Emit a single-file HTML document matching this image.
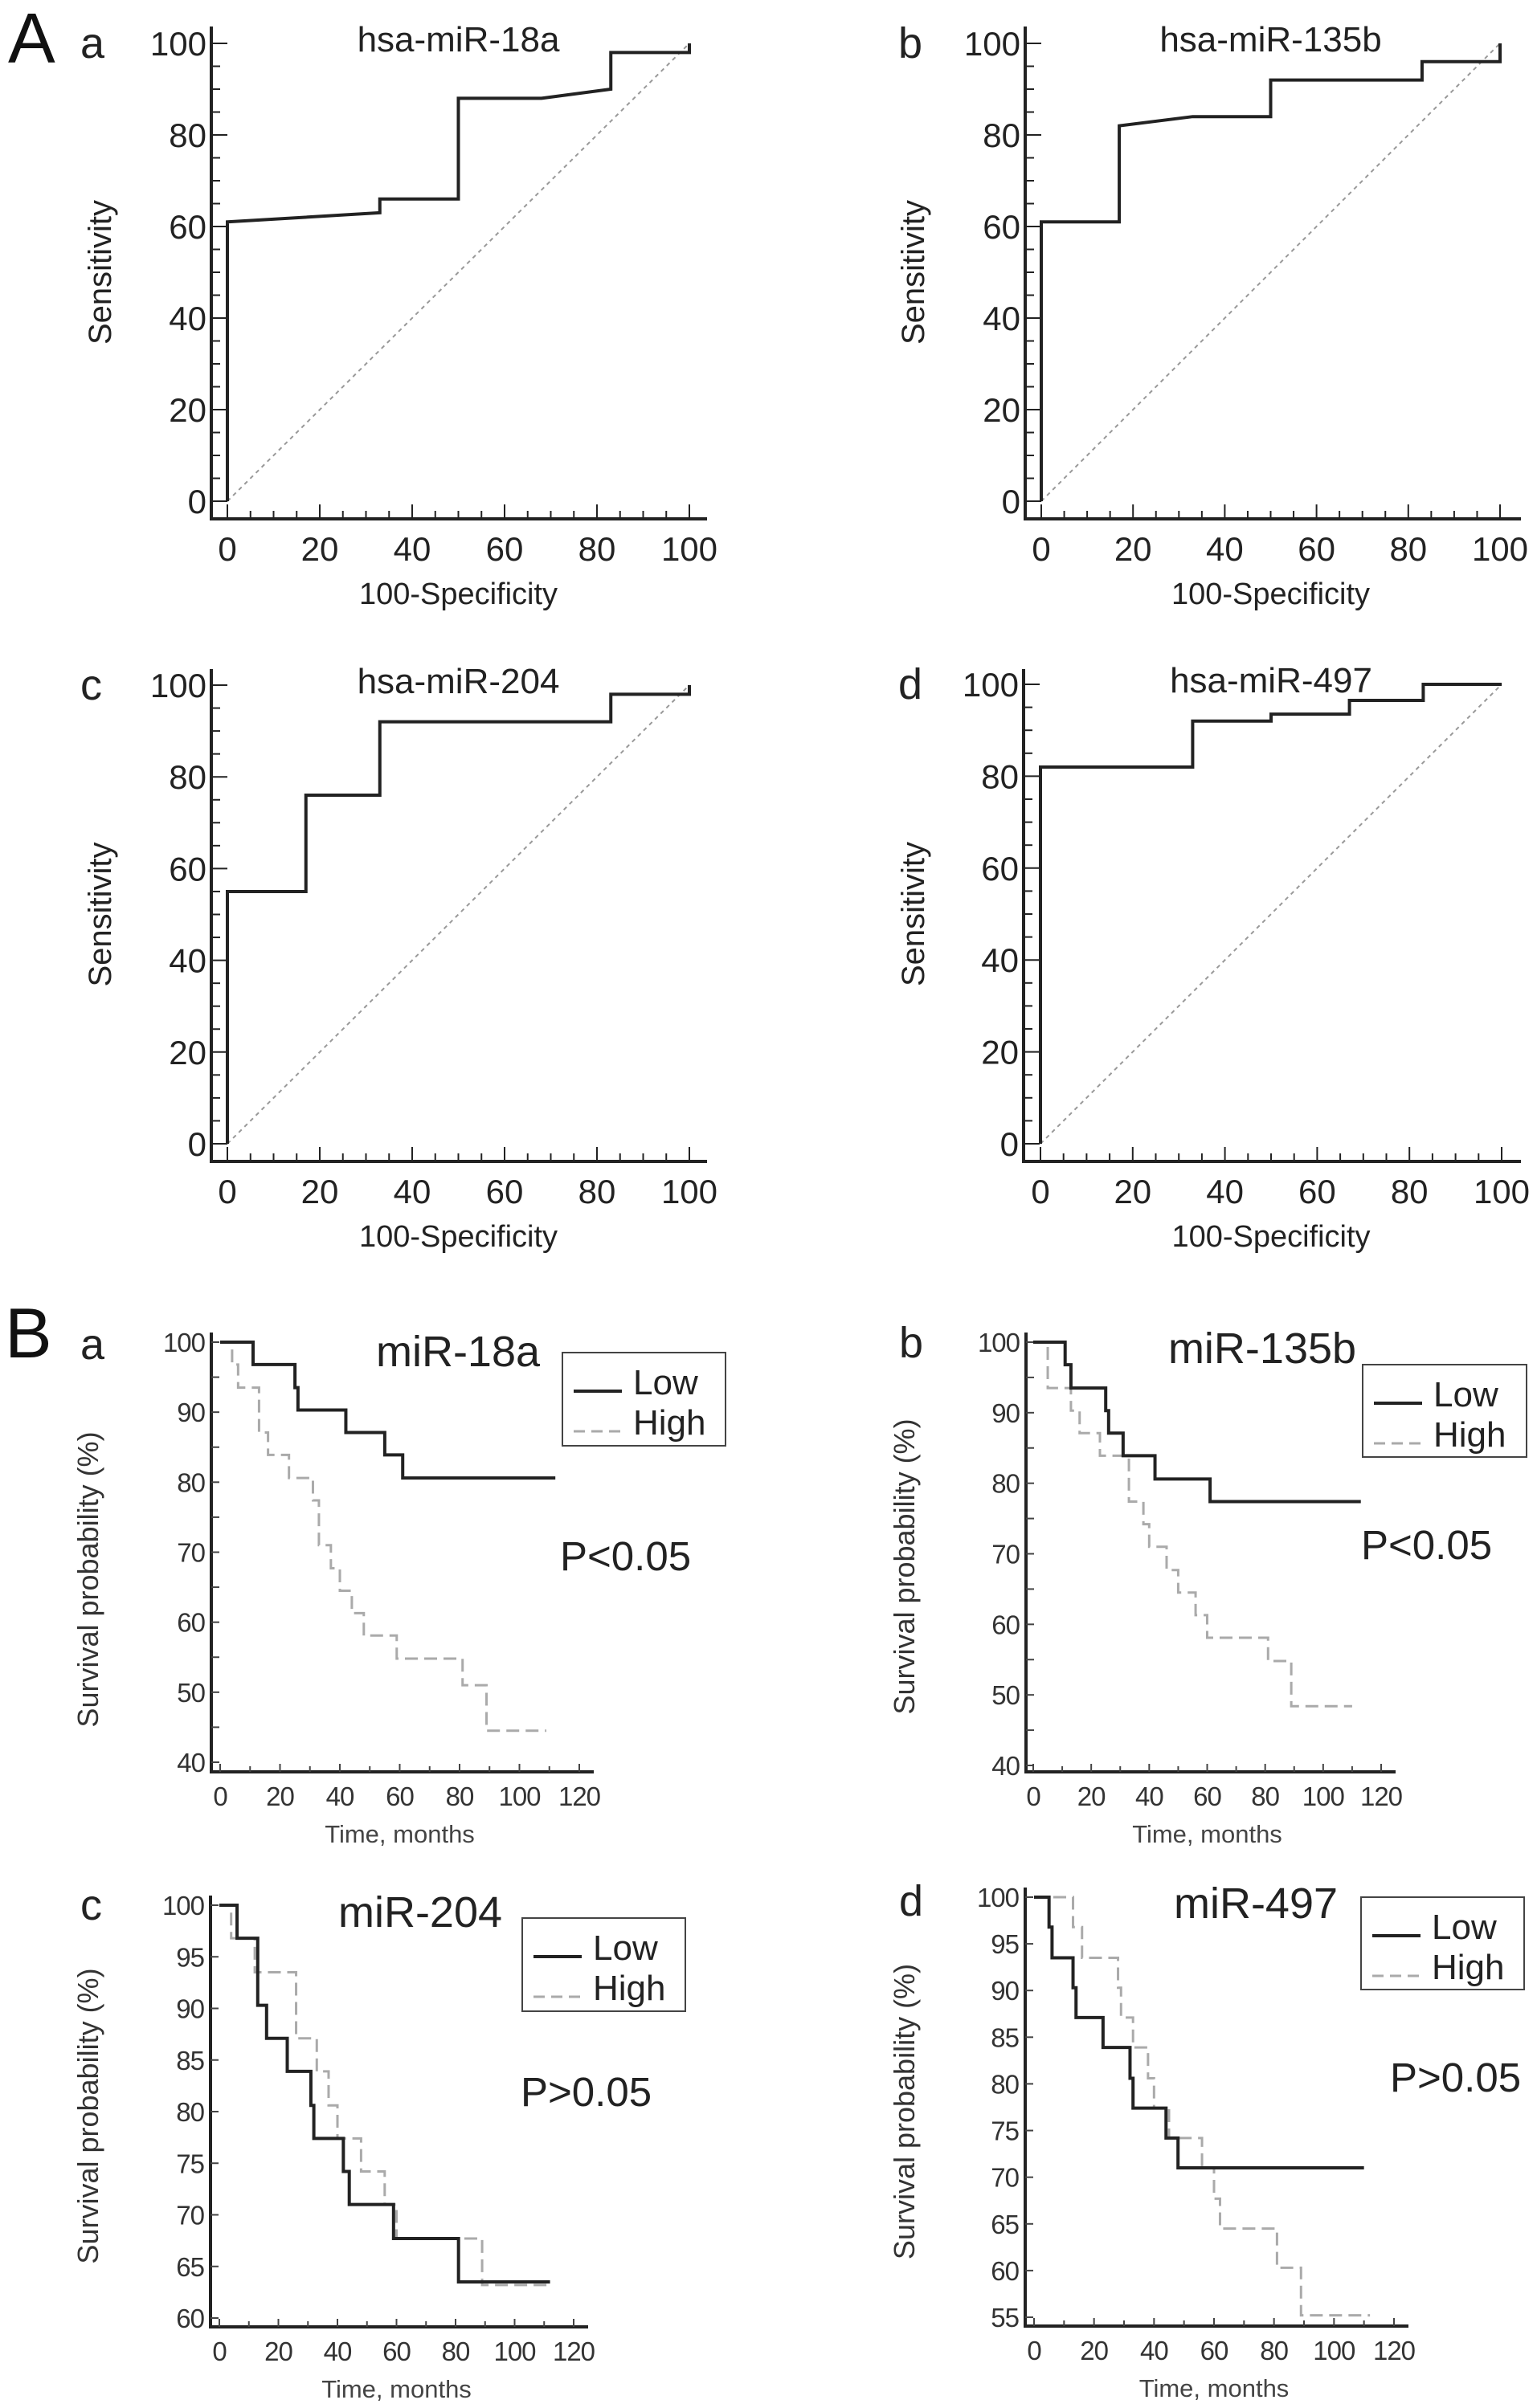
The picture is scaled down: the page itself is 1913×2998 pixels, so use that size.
<!DOCTYPE html>
<html><head><meta charset="utf-8">
<style>
html,body{margin:0;padding:0;background:#fff;}
svg{display:block;}
text{font-family:"Liberation Sans",Arial,sans-serif;}
</style></head>
<body>
<svg id="fig" width="1913" height="2998" viewBox="0 0 1913 2998" xmlns="http://www.w3.org/2000/svg">
<rect width="1913" height="2998" fill="#fff"/>
</svg>
<script>
// ---------- ROC data (x = 100-Specificity, y = Sensitivity) ----------
const rocA_x = [0,0,33,33,50,50,68,83,83,100,100];
const rocA_y = [0,61,63,66,66,88,88,90,98,98,100];
const rocB_x = [0,0,17,17,33,50,50,83,83,100,100];
const rocB_y = [0,61,61,82,84,84,92,92,96,96,100];
const rocC_x = [0,0,17,17,33,33,83,83,100,100];
const rocC_y = [0,55,55,76,76,92,92,98,98,100];
const rocD_x = [0,0,33,33,50,50,67,67,83,83,100];
const rocD_y = [0,82,82,92,92,93.5,93.5,96.5,96.5,100,100];
const rocXTicks = [0,20,40,60,80,100];
const rocYTicks = [0,20,40,60,80,100];

// ---------- Kaplan-Meier data ----------
const kmA_low_t = [0,11,25,26,42,55,61]; const kmA_low_s = [100,96.8,93.5,90.3,87.1,83.9,80.6]; const kmA_low_end = 112;
const kmA_high_t = [0,4,6,13,16,23,31,33,37,40,44,48,59,81,89]; const kmA_high_s = [100,96.8,93.5,87.1,83.9,80.6,77.4,71,67.7,64.5,61.3,58.1,54.8,51,44.5]; const kmA_high_end = 109;
const kmB_low_t = [0,11,13,25,26,31,42,61]; const kmB_low_s = [100,96.8,93.5,90.3,87.1,83.9,80.6,77.4]; const kmB_low_end = 113;
const kmB_high_t = [0,5,13,16,23,33,38,40,46,50,56,60,81,89]; const kmB_high_s = [100,93.5,90.3,87.1,83.9,77.4,74.2,71,67.7,64.5,61.3,58.1,54.8,48.4]; const kmB_high_end = 110;
const kmC_low_t = [0,6,13,16,23,31,32,42,44,59,81]; const kmC_low_s = [100,96.8,90.3,87.1,83.9,80.6,77.4,74.2,71,67.7,63.5]; const kmC_low_end = 112;
const kmC_high_t = [0,4,12,26,33,37,40,48,56,60,89]; const kmC_high_s = [100,96.8,93.5,87.1,83.9,80.6,77.4,74.2,71,67.7,63.2]; const kmC_high_end = 112;
const kmD_low_t = [0,5,6,13,14,23,32,33,44,48]; const kmD_low_s = [100,96.8,93.5,90.3,87.1,83.9,80.6,77.4,74.2,71]; const kmD_low_end = 110;
const kmD_high_t = [0,13,16,28,29,33,38,40,45,56,60,62,81,89]; const kmD_high_s = [100,96.8,93.5,90.3,87.1,83.9,80.6,77.4,74.2,71,67.7,64.5,60.3,55.2]; const kmD_high_end = 112;
const kmXTicks = [0,20,40,60,80,100,120];
const kmYTicksAB = [40,50,60,70,80,90,100];
const kmYTicksC = [60,65,70,75,80,85,90,95,100];
const kmYTicksD = [55,60,65,70,75,80,85,90,95,100];

const NS = "http://www.w3.org/2000/svg";
const svg = document.getElementById('fig');
function el(tag, attrs, parent, txt){
  const e = document.createElementNS(NS, tag);
  for (const k in attrs) e.setAttribute(k, attrs[k]);
  if (txt !== undefined) e.textContent = txt;
  (parent || svg).appendChild(e);
  return e;
}
function txt(x,y,s,size,opts,parent){
  const o = Object.assign({x:x,y:y,'font-size':size,fill:'#222'}, opts||{});
  return el('text', o, parent, s);
}

// ---------- ROC panel ----------
function rocPanel(name, P, xs, ys, title, letter){
  const g = el('g', {});
  
  
  const X = v => P.x0 + (P.x100 - P.x0) * v / 100;
  const Y = v => P.y0 + (P.y100 - P.y0) * v / 100;
  const ax = el('path', {d:`M${P.ax} ${P.top} V${P.ay} H${P.right}`, stroke:'#222','stroke-width':4, fill:'none'}, g);
  
  
  for (let v = 0; v <= 100; v += 5){
    const maj = v % 20 === 0;
    el('line', {x1:P.ax, x2:P.ax + (maj?20:11), y1:Y(v), y2:Y(v), stroke:'#222','stroke-width':2}, g);
    el('line', {x1:X(v), x2:X(v), y1:P.ay, y2:P.ay - (maj?18:10), stroke:'#222','stroke-width':2}, g);
  }
  rocYTicks.forEach(v => {
    const t = txt(P.ax - 6, Y(v) + 15, String(v), 42, {'text-anchor':'end'}, g);
    
    
  });
  rocXTicks.forEach(v => {
    const t = txt(X(v), P.ay + 52, String(v), 42, {'text-anchor':'middle'}, g);
    
    
  });
  const dg = el('line', {x1:X(0), y1:Y(0), x2:X(100), y2:Y(100), stroke:'#999','stroke-width':2,'stroke-dasharray':'5 5'}, g);
  
  
  let d = '';
  xs.forEach((v,i) => { d += (i ? 'L' : 'M') + X(v) + ' ' + Y(ys[i]) + ' '; });
  const c = el('path', {d:d, stroke:'#222','stroke-width':4, fill:'none'}, g);
  
  
  const tt = txt((P.x0+P.x100)/2, P.y100 + 10, title, 44, {'text-anchor':'middle'}, g);
  
  
  const xt = txt((P.x0+P.x100)/2, P.ay + 106, '100-Specificity', 38, {'text-anchor':'middle'}, g);
  
  
  const cy = (P.y0 + P.y100)/2;
  const yt = txt(P.ylx, cy, 'Sensitivity', 40, {'text-anchor':'middle', transform:`rotate(-90 ${P.ylx} ${cy})`}, g);
  
  
  const lt = txt(P.lx, P.y100 + 18, letter, 54, {}, g);
  
  
}

// ---------- KM panel ----------
function kmPanel(name, P, low_t, low_s, low_end, high_t, high_s, high_end, yticks, minor, title, letter, pText){
  const g = el('g', {});
  
  
  const X = v => P.x0 + (P.x120 - P.x0) * v / 120;
  const Y = v => P.ybot + (P.ytop - P.ybot) * (v - P.ymin) / (100 - P.ymin);
  const ax = el('path', {d:`M${P.ax} ${P.ytop-12} V${P.ay} H${X(120)+18}`, stroke:'#222','stroke-width':4, fill:'none'}, g);
  
  
  for (let v = P.ymin; v <= 100; v += minor){
    el('line', {x1:P.ax, x2:P.ax+10, y1:Y(v), y2:Y(v), stroke:'#444','stroke-width':2}, g);
  }
  for (let v = 0; v <= 120; v += 10){
    el('line', {x1:X(v), x2:X(v), y1:P.ay, y2:P.ay - (v%20===0?10:7), stroke:'#444','stroke-width':2}, g);
  }
  yticks.forEach(v => {
    const t = txt(P.ax - 8, Y(v) + 12, String(v), 33, {'text-anchor':'end', fill:'#333', 'letter-spacing':'-1'}, g);
    
    
  });
  kmXTicks.forEach(v => {
    const t = txt(X(v), P.ay + 42, String(v), 33, {'text-anchor':'middle', fill:'#333', 'letter-spacing':'-1'}, g);
    
    
  });
  function steps(ts, ss, end){
    let d = 'M' + X(ts[0]) + ' ' + Y(ss[0]);
    for (let i = 1; i < ts.length; i++){
      d += ' H' + X(ts[i]) + ' V' + Y(ss[i]);
    }
    d += ' H' + X(end);
    return d;
  }
  const hi = el('path', {d:steps(high_t, high_s, high_end), stroke:'#aaa','stroke-width':3, fill:'none','stroke-dasharray':'16 8'}, g);
  
  
  const lo = el('path', {d:steps(low_t, low_s, low_end), stroke:'#222','stroke-width':4, fill:'none'}, g);
  
  
  const tt = txt(P.tx, P.ty + 4, title, 54, {'text-anchor':'middle'}, g);
  
  
  const xt = txt((X(0)+X(120))/2, P.ay + 88, 'Time, months', 31, {'text-anchor':'middle', fill:'#444'}, g);
  
  
  const cy = (P.ytop + P.ay)/2 + P.yoff;
  const yt = txt(P.ylx, cy, 'Survival probability (%)', 36, {'text-anchor':'middle', fill:'#333', transform:`rotate(-90 ${P.ylx} ${cy})`}, g);
  
  
  const L = P.leg;
  const lg = el('g', {}, g);
  
  
  el('rect', {x:L[0], y:L[1], width:L[2], height:L[3], fill:'#fff', stroke:'#444','stroke-width':2}, lg);
  el('line', {x1:L[0]+14, x2:L[0]+74, y1:L[1]+48, y2:L[1]+48, stroke:'#222','stroke-width':4}, lg);
  el('line', {x1:L[0]+14, x2:L[0]+74, y1:L[1]+98, y2:L[1]+98, stroke:'#aaa','stroke-width':3,'stroke-dasharray':'14 8'}, lg);
  const e1 = txt(L[0]+88, L[1]+52, 'Low', 44, {}, lg);
  
  
  const e2 = txt(L[0]+88, L[1]+102, 'High', 44, {}, lg);
  
  
  const pt = txt(P.px, P.py, pText, 51, {}, g);
  
  
  const lt = txt(P.lx, P.ly, letter, 54, {}, g);
  
  
}

const sA = txt(10, 78, 'A', 88, {fill:'#111'});


const sB = txt(6, 1690, 'B', 88, {fill:'#111'});



rocPanel('roc-panel-a', {ax:263, ay:646, top:33, right:880, x0:283, x100:858, y0:624, y100:54, ylx:138, lx:100}, rocA_x, rocA_y, 'hsa-miR-18a', 'a');
rocPanel('roc-panel-b', {ax:1276, ay:646, top:33, right:1893, x0:1296, x100:1867, y0:624, y100:54, ylx:1150, lx:1118}, rocB_x, rocB_y, 'hsa-miR-135b', 'b');
rocPanel('roc-panel-c', {ax:263, ay:1446, top:833, right:880, x0:283, x100:858, y0:1424, y100:853, ylx:138, lx:100}, rocC_x, rocC_y, 'hsa-miR-204', 'c');
rocPanel('roc-panel-d', {ax:1274, ay:1446, top:833, right:1893, x0:1295, x100:1869, y0:1424, y100:852, ylx:1150, lx:1118}, rocD_x, rocD_y, 'hsa-miR-497', 'd');

kmPanel('km-panel-a', {ax:263, ay:2206, x0:274, x120:721, ytop:1671, ybot:2194, ymin:40, ylx:122, yoff:28, tx:570, ty:1697, leg:[700,1684,203,116], px:697, py:1955, lx:100, ly:1692},
  kmA_low_t, kmA_low_s, kmA_low_end, kmA_high_t, kmA_high_s, kmA_high_end, kmYTicksAB, 5, 'miR-18a', 'a', 'P<0.05');
kmPanel('km-panel-b', {ax:1277, ay:2206, x0:1286, x120:1719, ytop:1671, ybot:2198, ymin:40, ylx:1138, yoff:12, tx:1571, ty:1693, leg:[1696,1699,204,115], px:1694, py:1941, lx:1119, ly:1690},
  kmB_low_t, kmB_low_s, kmB_low_end, kmB_high_t, kmB_high_s, kmB_high_end, kmYTicksAB, 5, 'miR-135b', 'b', 'P<0.05');
kmPanel('km-panel-c', {ax:262, ay:2897, x0:273, x120:714, ytop:2372, ybot:2886, ymin:60, ylx:122, yoff:0, tx:523, ty:2395, leg:[650,2388,203,116], px:648, py:2622, lx:100, ly:2390},
  kmC_low_t, kmC_low_s, kmC_low_end, kmC_high_t, kmC_high_s, kmC_high_end, kmYTicksC, 5, 'miR-204', 'c', 'P>0.05');
kmPanel('km-panel-d', {ax:1276, ay:2896, x0:1287, x120:1735, ytop:2362, ybot:2885, ymin:55, ylx:1138, yoff:0, tx:1563, ty:2384, leg:[1694,2362,203,115], px:1730, py:2604, lx:1119, ly:2385},
  kmD_low_t, kmD_low_s, kmD_low_end, kmD_high_t, kmD_high_s, kmD_high_end, kmYTicksD, 5, 'miR-497', 'd', 'P>0.05');
</script>
</body></html>
